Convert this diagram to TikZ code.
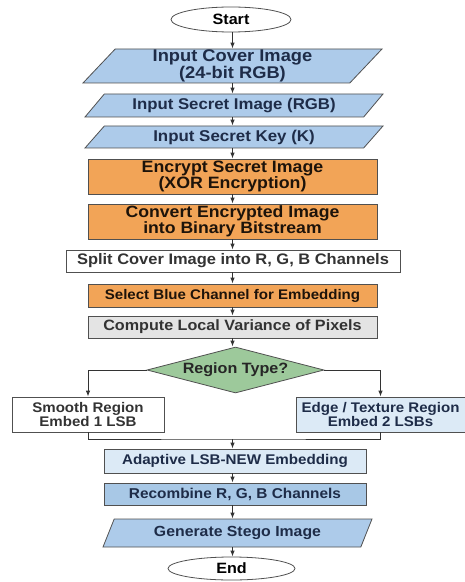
\documentclass[tikz,border=0pt]{standalone}
\usepackage{fontspec}
\setmainfont{Liberation Sans}
\newfontfamily\boxfont[FakeStretch=1.08]{Liberation Sans}
\usetikzlibrary{arrows.meta,calc,positioning,shapes.geometric}

\definecolor{ioblue}{HTML}{ADCBEA}
\definecolor{procorange}{HTML}{F2A457}
\definecolor{procgray}{HTML}{E4E4E4}
\definecolor{paleblue}{HTML}{DCEAF6}
\definecolor{midblue}{HTML}{A8C8E6}
\definecolor{decgreen}{HTML}{9DC99B}
\definecolor{edgegray}{HTML}{505050}
\definecolor{navytext}{HTML}{1E2C48}

\begin{document}
\begin{tikzpicture}[x=1bp, y=-1bp,
    fs/.style={font=\boxfont\bfseries\fontsize{#1}{14}\selectfont},
    base/.style={draw=edgegray, line width=0.8pt, inner sep=0pt, align=center, fs=15},
    terminal/.style={base, ellipse, fill=white, text=black},
    io/.style={base, trapezium, trapezium stretches body, trapezium left angle=45,
        trapezium right angle=135, fill=ioblue, text=navytext},
    proc/.style={base, rectangle, fill=procorange, text=black!85!brown},
    plain/.style={base, rectangle, fill=white, text=black!80},
    grayproc/.style={base, rectangle, fill=procgray, text=black!80},
    decision/.style={base, diamond, aspect=3.8, fill=decgreen, text=black!85},
    flow/.style={draw=black!80, line width=0.9pt, -{Latex[length=6pt, width=4.5pt]}},
    link/.style={draw=black!80, line width=0.9pt}]

    \useasboundingbox (0,0) rectangle (465,582);

    % Input stage
    \node[terminal, minimum width=120bp, minimum height=25bp] (start) at (231,19.5) {Start};
    \node[io, fs=17, minimum width=299bp, minimum height=34bp] (cover) at (232.5,66) {Input Cover Image\\(24-bit RGB)};
    \node[io, fs=15.6, trapezium left angle=37, trapezium right angle=143, minimum width=298bp, minimum height=23bp] (secimg) at (234,105.5) {Input Secret Image (RGB)};
    \node[io, fs=15.7, trapezium left angle=37, trapezium right angle=143, minimum width=298bp, minimum height=22bp] (seckey) at (234,137) {Input Secret Key (K)};

    % Preparation
    \node[proc, fs=16.5, minimum width=289bp, minimum height=35bp] (encrypt) at (232.5,176.5) {Encrypt Secret Image\\(XOR Encryption)};
    \node[proc, fs=16.4, minimum width=289bp, minimum height=35bp] (convert) at (232.5,221.5) {Convert Encrypted Image\\into Binary Bitstream};
    \node[plain, fs=15.3, minimum width=334bp, minimum height=22bp] (split) at (233,261) {Split Cover Image into R, G, B Channels};
    \node[proc, fs=14, minimum width=289bp, minimum height=23bp] (select) at (232.5,295.5) {Select Blue Channel for Embedding};
    \node[grayproc, minimum width=289bp, minimum height=22bp] (variance) at (232.5,327) {Compute Local Variance of Pixels};

    % Decision
    \node[decision, minimum width=177bp, minimum height=46bp] (region) at (235.5,370) {Region Type?};
    \node[plain, fs=14, minimum width=152bp, minimum height=35bp] (smooth) at (88,414.5) {Smooth Region\\Embed 1 LSB};
    \node[base, fs=14, rectangle, fill=paleblue, text=navytext, minimum width=169bp, minimum height=35bp] (edge) at (380.5,414.5) {Edge / Texture Region\\Embed 2 LSBs};

    % Embedding and output
    \node[base, fs=14.1, rectangle, fill=paleblue, text=navytext, minimum width=262bp, minimum height=24bp] (adaptive) at (235,461) {Adaptive LSB-NEW Embedding};
    \node[base, fs=14.3, rectangle, fill=midblue, text=navytext, minimum width=262bp, minimum height=22bp] (recombine) at (235,494) {Recombine R, G, B Channels};
    \node[io, fs=14.7, trapezium left angle=50, trapezium right angle=130, minimum width=269bp, minimum height=28bp] (stego) at (237.5,533) {Generate Stego Image};
    \node[terminal, minimum width=127bp, minimum height=23bp] (end) at (231.5,568.5) {End};

    % Main flow
    \foreach \a/\b in {start/cover, cover/secimg, secimg/seckey, seckey/encrypt, encrypt/convert,
                       convert/split, split/select, select/variance, variance/region} {
        \draw[flow] (\a.south -| 232.5,0) -- (\b.north -| 232.5,0);
    }
    \foreach \a/\b in {adaptive/recombine, recombine/stego, stego/end} {
        \draw[flow] (\a.south -| 232.5,0) -- (\b.north -| 232.5,0);
    }

    % Branches
    \draw[flow] (region.west) -| (smooth.north);
    \draw[flow] (region.east) -| (edge.north);
    \coordinate (merge) at (232.5,439);
    \draw[link] (smooth.south) |- (merge) -| (edge.south);
    \draw[flow] (merge) -- (adaptive.north -| merge);

\end{tikzpicture}
\end{document}
